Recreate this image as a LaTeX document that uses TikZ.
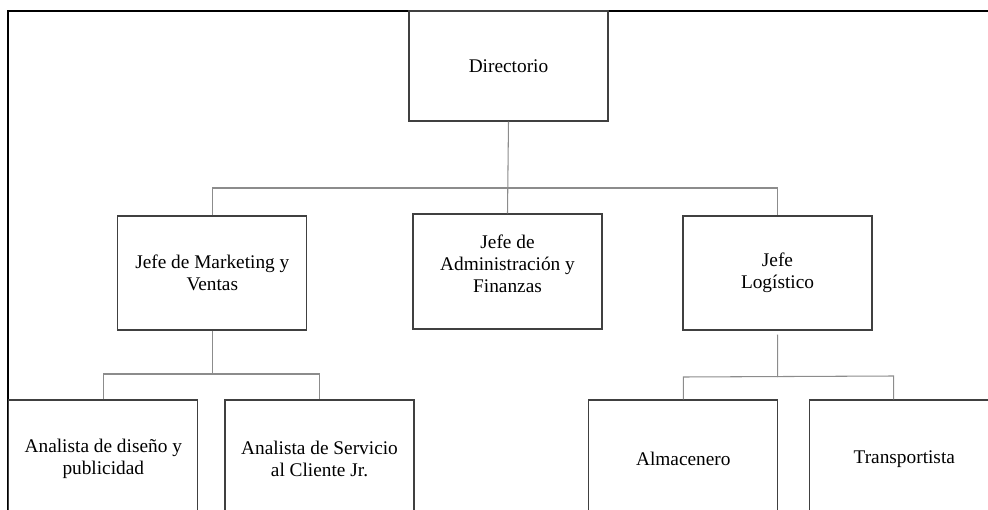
\documentclass[tikz,border=0pt]{standalone}
\usepackage{fontspec}
\setmainfont{Liberation Serif}
\usepackage{tikz}

\begin{document}
\begin{tikzpicture}[x=0.02cm,y=-0.02cm,font=\fontsize{11}{12.5}\selectfont,
  puesto/.style={draw=black!75,line width=0.6pt,align=center,inner sep=0pt,
    minimum width=3.78cm,minimum height=2.28cm},
  conn/.style={draw=black!45,line width=0.6pt}]
		  \useasboundingbox (0,0) rectangle (988,510);
		  \clip (0,0) rectangle (988,510);
		  \draw[line width=1.2pt] (8.3,530) -- (8.3,11) -- (1000,11);
		  % first level
		  \node[puesto,minimum width=3.98cm,minimum height=2.2cm] (dir) at (508.5,66) {Directorio};
		  \node[puesto] (mkt) at (212.3,273) {Jefe de Marketing y\\Ventas};
		  \node[puesto,minimum height=2.3cm,
		    label={[align=center,yshift=0.16cm]center:Jefe de\\Administración y\\Finanzas}] (adm) at (507.5,271.5) {};
		  \node[puesto] (log) at (777.5,273) {Jefe\\Logístico};
		  % second level
		  \node[puesto,minimum height=2.36cm] (dis) at (103.3,459) {Analista de diseño y\\publicidad};
		  \node[puesto,minimum height=2.36cm] (ser) at (319.5,459) {Analista de Servicio\\al Cliente Jr.};
		  \node[puesto,minimum height=2.36cm] (alm) at (683.3,459) {Almacenero};
		  \node[puesto,minimum height=2.36cm] (tra) at (904.3,459) {Transportista};
		  \coordinate (bus) at (0,188);
		  \coordinate (mbus) at (0,374);
		  \coordinate (lbus) at (777.7,377);
		  \coordinate (tbus) at (893.7,376);
		  \draw[conn] (dir.south) -- (adm.north);
		  \draw[conn] (mkt.north) -- (mkt.north |- bus) -- (log.north |- bus) -- (log.north);
		  \draw[conn] (mkt.south) -- (mkt.south |- mbus);
		  \draw[conn] (dis.north) -- (dis.north |- mbus) -- (ser.north |- mbus) -- (ser.north);
		  \draw[conn,shorten <=0.08cm] (log.south) -- (lbus);
		  \draw[conn] (alm.north) -- (alm.north |- lbus) -- (tbus) -- (tbus |- tra.north);
		\end{tikzpicture}
\end{document}
